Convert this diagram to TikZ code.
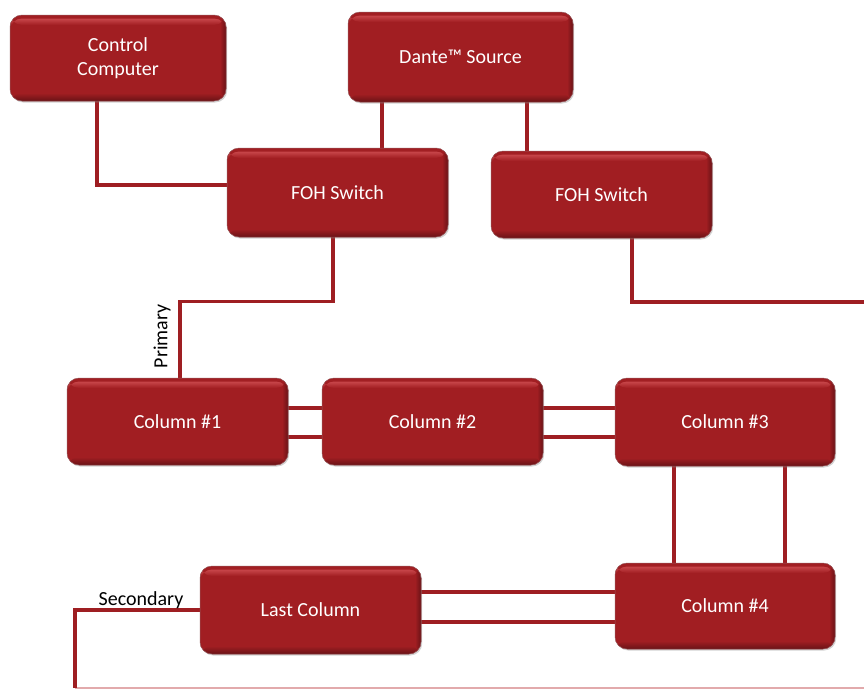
\documentclass[tikz,border=0pt]{standalone}
\usepackage{fontspec}
\setmainfont{Carlito}
\usetikzlibrary{backgrounds,shadows}
\definecolor{boxred}{RGB}{161,30,34}
\definecolor{boxhi}{RGB}{200,70,74}
\definecolor{boxdark}{RGB}{105,18,22}
\definecolor{linered}{RGB}{158,30,34}
\definecolor{fadeline}{RGB}{226,170,172}
\tikzset{
  netbox/.style={rounded corners=12pt, fill=boxred, draw=boxdark!70, line width=0.5pt,
    text=white, align=center, font=\fontsize{20}{24}\selectfont, inner sep=0pt,
    drop shadow={opacity=0.35, shadow xshift=1.2pt, shadow yshift=-1.5pt},
    path picture={
      \shade[top color=boxred, bottom color=boxhi]
        ([yshift=-0.5pt]path picture bounding box.north west) rectangle
        ([yshift=-3.5pt]path picture bounding box.north east);
      \shade[top color=boxhi, bottom color=boxred]
        ([yshift=-3.5pt]path picture bounding box.north west) rectangle
        ([yshift=-10pt]path picture bounding box.north east);
      \shade[top color=boxred, bottom color=boxdark]
        ([yshift=8pt]path picture bounding box.south west) rectangle
        (path picture bounding box.south east);
      \shade[left color=boxred, right color=boxdark]
        ([xshift=-6pt]path picture bounding box.south east) rectangle
        (path picture bounding box.north east);
    }},
  wire/.style={draw=linered, line width=3.4pt},
  fadewire/.style={draw=fadeline, line width=2pt},
  lbl/.style={text=black, font=\fontsize{20}{24}\selectfont, inner sep=0pt}
}
\begin{document}
\begin{tikzpicture}[x=1pt,y=-1pt]
\useasboundingbox (0,0) rectangle (864,688);

\node[netbox, minimum width=216pt, minimum height=86pt] (ctrl) at (118,58) {Control\\Computer};
\node[netbox, minimum width=225pt, minimum height=90pt] (dante) at (460.5,57) {Dante™ Source};
\node[netbox, minimum width=221pt, minimum height=89pt] (foh1) at (337.5,192.5) {FOH Switch};
\node[netbox, minimum width=221pt, minimum height=87pt] (foh2) at (601.5,194.5) {FOH Switch};
\node[netbox, minimum width=221pt, minimum height=87pt] (col1) at (177.5,421.5) {Column \#1};
\node[netbox, minimum width=221pt, minimum height=87pt] (col2) at (432.5,421.5) {Column \#2};
\node[netbox, minimum width=220pt, minimum height=88pt] (col3) at (725,422) {Column \#3};
\node[netbox, minimum width=220pt, minimum height=86pt] (col4) at (725,606) {Column \#4};
\node[netbox, minimum width=221pt, minimum height=88pt] (last) at (310.5,610) {Last Column};

\coordinate (eastend) at (864,302);
\coordinate (swcorner) at (75,688);
\coordinate (seend) at (864,687.5);

\node[lbl, rotate=90] (primary) at (162,336.5) {Primary};
\node[lbl, anchor=base] (secondary) at (141,605) {Secondary};

\begin{scope}[on background layer]
  \fill[white] (0,0) rectangle (864,688);
  \draw[wire] ([xshift=-21pt]ctrl.south) |- ([yshift=7.5pt]foh1.west);
  \draw[wire] ([xshift=-78.5pt]dante.south) -- ([xshift=44.5pt]foh1.north);
  \draw[wire] ([xshift=66.5pt]dante.south) -- ([xshift=-74.5pt]foh2.north);
  \draw[wire] ([xshift=-4.5pt]foh1.south) -- ++(0,64) -| ([xshift=2.5pt]col1.north);
  \draw[wire] ([xshift=30.5pt]foh2.south) |- (eastend);
  \draw[wire] ([yshift=13.5pt]col1.east) -- ([yshift=13.5pt]col1.east -| col2.west);
  \draw[wire] ([yshift=-15.5pt]col1.east) -- ([yshift=-15.5pt]col1.east -| col2.west);
  \draw[wire] ([yshift=13.5pt]col2.east) -- ([yshift=13.5pt]col2.east -| col3.west);
  \draw[wire] ([yshift=-15.5pt]col2.east) -- ([yshift=-15.5pt]col2.east -| col3.west);
  \draw[wire] ([xshift=-51pt]col3.south) -- ([xshift=-51pt]col3.south |- col4.north);
  \draw[wire] ([xshift=60pt]col3.south) -- ([xshift=60pt]col3.south |- col4.north);
  \draw[wire] ([yshift=18pt]last.east) -- ([yshift=18pt]last.east -| col4.west);
  \draw[wire] ([yshift=-12pt]last.east) -- ([yshift=-12pt]last.east -| col4.west);
  \draw[fadewire] (swcorner |- seend) -- (seend);
  \draw[wire] ([xshift=10pt]last.west) -| (swcorner);
\end{scope}
\end{tikzpicture}
\end{document}
